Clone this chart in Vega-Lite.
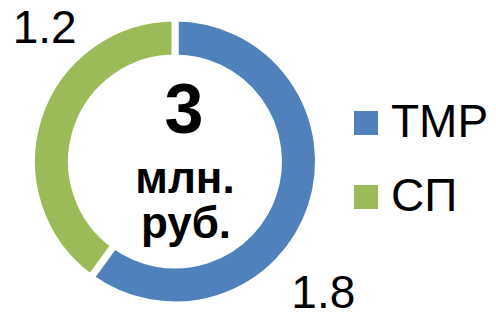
{
  "$schema": "https://vega.github.io/schema/vega-lite/v6.json",
  "width": 350,
  "height": 303,
  "autosize": {"type": "none"},
  "padding": {"left": 0, "top": 10, "right": 146, "bottom": 0},
  "background": "white",
  "config": {"view": {"stroke": null}, "font": "Liberation Sans"},
  "layer": [
    {
      "data": {"values": [
        {"cat": "ТМР", "value": 1.8},
        {"cat": "СП", "value": 1.2}
      ]},
      "encoding": {
        "theta": {"field": "value", "type": "quantitative", "stack": true},
        "order": {"field": "value", "type": "quantitative", "sort": "descending"}
      },
      "layer": [
        {
          "mark": {"type": "arc", "innerRadius": 103.5, "outerRadius": 143.5, "stroke": "white", "strokeWidth": 7},
          "encoding": {
            "color": {
              "field": "cat", "type": "nominal",
              "scale": {"domain": ["ТМР", "СП"], "range": ["#4F81BD", "#9BBB59"]},
              "legend": {
                "title": null, "orient": "none", "legendX": 343, "legendY": 90,
                "symbolType": "square", "symbolSize": 576, "symbolStrokeWidth": 0, "symbolOpacity": 1,
                "labelFontSize": 46, "labelFont": "Liberation Sans", "labelColor": "black",
                "rowPadding": 28, "labelOffset": 2, "padding": 0, "labelLimit": 300
              }
            }
          }
        },
        {
          "mark": {"type": "text", "radius": 192, "thetaOffset": 0.445, "dx": 9, "fontSize": 46, "font": "Liberation Sans", "color": "black"},
          "encoding": {
            "text": {"field": "value", "type": "quantitative", "format": ".1f"},
            "detail": {"field": "cat", "type": "nominal"}
          }
        }
      ]
    },
    {
      "data": {"values": [{"t": "3"}]},
      "mark": {"type": "text", "fontSize": 70, "fontWeight": "bold", "font": "Liberation Sans", "dx": 9, "dy": -28.5, "baseline": "alphabetic", "color": "black"},
      "encoding": {"text": {"field": "t", "type": "nominal"}}
    },
    {
      "data": {"values": [{"t": "млн."}]},
      "mark": {"type": "text", "fontSize": 44, "fontWeight": "bold", "font": "Liberation Sans", "dx": 10, "dy": 31.5, "baseline": "alphabetic", "color": "black"},
      "encoding": {"text": {"field": "t", "type": "nominal"}}
    },
    {
      "data": {"values": [{"t": "руб."}]},
      "mark": {"type": "text", "fontSize": 44, "fontWeight": "bold", "font": "Liberation Sans", "dx": 11, "dy": 76.5, "baseline": "alphabetic", "color": "black"},
      "encoding": {"text": {"field": "t", "type": "nominal"}}
    }
  ]
}
